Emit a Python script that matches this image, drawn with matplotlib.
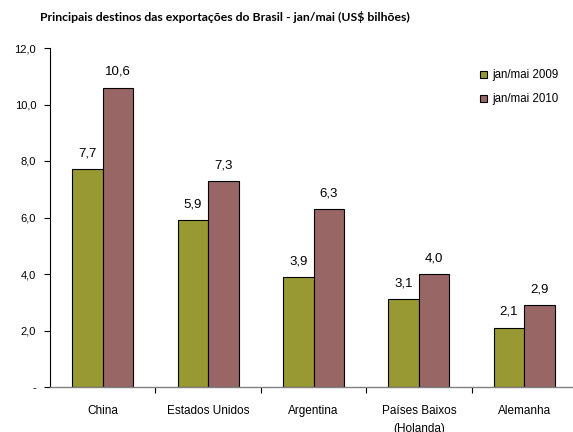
import matplotlib
matplotlib.use("Agg")
import matplotlib.pyplot as plt
import numpy as np
from matplotlib.ticker import FixedLocator

categories = ["China", "Estados Unidos", "Argentina", "Países Baixos\n(Holanda)", "Alemanha"]
v2009 = [7.7, 5.9, 3.9, 3.1, 2.1]
v2010 = [10.6, 7.3, 6.3, 4.0, 2.9]
lab2009 = ["7,7", "5,9", "3,9", "3,1", "2,1"]
lab2010 = ["10,6", "7,3", "6,3", "4,0", "2,9"]
yticks = [0, 2, 4, 6, 8, 10, 12]
yticklabels = ["-", "2,0", "4,0", "6,0", "8,0", "10,0", "12,0"]

c09 = "#999933"
c10 = "#996666"

fig = plt.figure(figsize=(5.73, 4.32), dpi=100)
ax = fig.add_axes([50/573, 45/432, (573-50)/573, (387-48)/432])

x = np.arange(len(categories))
w = 0.29
b1 = ax.bar(x - w/2, v2009, w, color=c09, edgecolor="black", linewidth=0.8, label="jan/mai 2009")
b2 = ax.bar(x + w/2, v2010, w, color=c10, edgecolor="black", linewidth=0.8, label="jan/mai 2010")

for bars, labs in ((b1, lab2009), (b2, lab2010)):
    for rect, t in zip(bars, labs):
        ax.annotate(t, (rect.get_x() + rect.get_width()/2, rect.get_height()), xytext=(0, 7),
                    textcoords="offset points", ha="center", va="bottom", fontsize=9.5,
                    family="Liberation Sans")

ax.set_ylim(0, 12)
ax.set_xlim(-0.5, 4.5 - 4/105.3)
ax.set_yticks(yticks)
ax.set_yticklabels(yticklabels, fontsize=8, family="Liberation Sans")
ax.set_xticks(x)
ax.set_xticklabels(categories, fontsize=8.5, family="Liberation Sans", linespacing=1.7, va="top")
ax.tick_params(axis="x", length=0, pad=13)
ax.xaxis.set_minor_locator(FixedLocator([0.5, 1.5, 2.5, 3.5]))
ax.tick_params(axis="x", which="minor", length=4, width=0.8, color="black", direction="out")
ax.tick_params(axis="y", length=4, width=0.8, direction="out", pad=6)

for s in ["top", "right"]:
    ax.spines[s].set_visible(False)
ax.spines["left"].set_linewidth(0.8)
ax.spines["bottom"].set_color("#808080")
ax.spines["bottom"].set_linewidth(1.0)

leg = ax.legend(loc="upper left", bbox_to_anchor=(470/573, (432-59)/432), bbox_transform=fig.transFigure,
                frameon=False, prop={"family": "Liberation Sans", "size": 8.3},
                handlelength=0.6, handleheight=0.6, handletextpad=0.4, labelspacing=1.05)

fig.text(40/573, 1 - 17/432, "Principais destinos das exportações do Brasil - jan/mai (US$ bilhões)",
         fontsize=8.8, fontweight="bold", family="Lato", va="center", ha="left")

fig.savefig("out.png", dpi=100)
